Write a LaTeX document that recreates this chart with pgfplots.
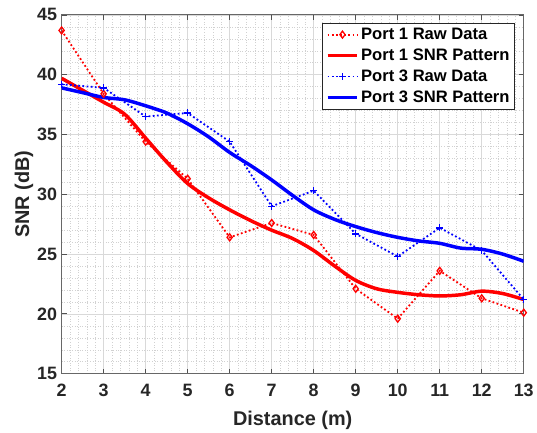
\documentclass[border=0pt]{standalone}
\usepackage{pgfplots}
\pgfplotsset{compat=1.18}
\usepackage{fontspec}
\setmainfont{Liberation Sans}
\definecolor{axgray}{RGB}{38,38,38}
\definecolor{mred}{RGB}{255,0,0}
\definecolor{mblue}{RGB}{0,0,255}
\newcommand{\tlab}[1]{\mbox{\fontsize{18}{21}\selectfont\bfseries\boldmath\color{axgray}#1}}
\begin{document}
\begin{tikzpicture}
\begin{axis}[
    scale only axis,
    width=465pt, height=361pt,
    xmin=2, xmax=13, ymin=15, ymax=45,
    xtick={2,...,13}, ytick={15,20,...,45},
    xticklabel={\tlab{\pgfmathprintnumber[assume math mode=true]{\tick}}},
    yticklabel={\tlab{\pgfmathprintnumber[assume math mode=true]{\tick}}},
    minor x tick num=4, minor y tick num=4,
    tick align=inside,
    major tick length=5pt, minor tick length=0pt,
    grid=both,
    major grid style={draw=black!15, line width=0.6pt},
    minor grid style={draw=black!18, dash pattern=on 0.6pt off 2pt, line width=0.5pt},
    axis line style={draw=axgray!70, line width=1pt},
    major tick style={draw=axgray!80, line width=0.8pt},
    xticklabel style={yshift=-7pt},
    yticklabel style={xshift=-1pt},
    xlabel={Distance (m)}, ylabel={SNR (dB)},
    label style={font=\fontsize{20}{24}\selectfont\bfseries, text=axgray},
    xlabel style={yshift=-7pt},
    ylabel style={yshift=-3pt},
    legend style={at={(0.981,0.978)}, anchor=north east,
        font=\fontsize{16.7}{20}\selectfont\bfseries, draw=axgray, line width=0.8pt,
        row sep=4pt, inner sep=3pt},
    legend cell align=left,
    legend image code/.code={
        \draw[#1] (0pt,0pt) -- (30pt,0pt);
        \draw[#1, only marks] plot coordinates {(15pt,0pt)};
    },
]
\addplot[mred, dash pattern=on 1.8pt off 2.4pt, line width=1.8pt, mark=diamond, mark size=3.5pt,
    mark options={solid, line width=1.3pt}] coordinates {
    (2,43.7) (3,38.4) (4,34.4) (5,31.3) (6,26.4) (7,27.6) (8,26.6)
    (9,22.1) (10,19.6) (11,23.6) (12,21.3) (13,20.1)};
\addlegendentry{Port 1 Raw Data}
\addplot[mred, line width=3.5pt, smooth] coordinates {
    (2,39.7) (2.5,38.7) (3,37.7) (3.5,36.7) (4,34.7) (4.5,32.7) (5,30.9)
    (5.5,29.7) (6,28.7) (6.5,27.8) (7,27.0) (7.5,26.3) (8,25.3) (8.5,24.0)
    (9,22.8) (9.5,22.1) (10,21.8) (10.5,21.6) (11,21.5) (11.5,21.6)
    (12,21.9) (12.5,21.7) (13,21.2)};
\addlegendentry{Port 1 SNR Pattern}
\addplot[mblue, dash pattern=on 1.8pt off 2.4pt, line width=1.8pt, mark=+, mark size=3.5pt,
    mark options={solid, line width=1.5pt}] coordinates {
    (2,39.2) (3,38.9) (4,36.5) (5,36.8) (6,34.4) (7,29.0) (8,30.3)
    (9,26.7) (10,24.8) (11,27.2) (12,25.3) (13,21.2)};
\addlegendentry{Port 3 Raw Data}
\addplot[mblue, line width=3.5pt, smooth] coordinates {
    (2,38.9) (2.5,38.5) (3,38.1) (3.5,37.9) (4,37.4) (4.5,36.8) (5,35.9)
    (5.5,34.8) (6,33.5) (6.5,32.4) (7,31.2) (7.5,29.9) (8,28.7) (8.5,27.9)
    (9,27.3) (9.5,26.8) (10,26.4) (10.5,26.1) (11,25.9) (11.5,25.5)
    (12,25.4) (12.5,25.0) (13,24.4)};
\addlegendentry{Port 3 SNR Pattern}
\end{axis}
\path (current axis.south west) ++(-62pt,-56pt) rectangle ++(537pt,432pt);
\end{tikzpicture}
\end{document}
